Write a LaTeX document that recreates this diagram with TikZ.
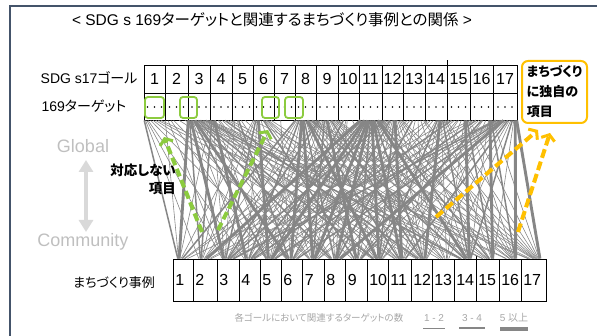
\documentclass[tikz,border=0pt]{standalone}
\usepackage{fontspec}
\setmainfont{Liberation Sans}
\newfontfamily\jp[RawFeature=+palt]{Noto Sans CJK JP}
\usetikzlibrary{arrows.meta,calc}
\definecolor{frame}{HTML}{44546A}
\definecolor{conn}{HTML}{868686}
\definecolor{grn}{HTML}{8CCB3F}
\definecolor{org}{HTML}{FFC000}
\definecolor{lgray}{HTML}{BFBFBF}
\definecolor{arrgray}{HTML}{D9D9D9}
\definecolor{legtxt}{HTML}{A6A6A6}
\begin{document}
\begin{tikzpicture}[x=1pt,y=-1pt,
  cell/.style={draw=black, line width=0.8pt, inner sep=0pt},
  w1/.style={draw=conn,line width=0.6pt},
  w2/.style={draw=conn,line width=1.5pt},
  w3/.style={draw=conn,line width=2.9pt},
  gbox/.style={draw=grn, line width=1.8pt, rounded corners=3pt, inner sep=0pt},
  garr/.style={draw=grn, line width=4pt, dash pattern=on 8pt off 4pt, -{Straight Barb[length=5pt,width=14pt,line width=3pt]}},
  oarr/.style={draw=org, line width=4pt, dash pattern=on 9pt off 4pt, -{Straight Barb[length=5pt,width=14pt,line width=3pt]}},
  numfont/.style={font=\fontsize{16}{16}\selectfont}]
\useasboundingbox (0,0) rectangle (597,336);
\draw[frame, line width=1.5pt] (597,6) -- (10,6) -- (10,336);

\node[font=\fontsize{15.5}{15.5}\selectfont] (title) at (272,20) {< SDG s 169{\jp ターゲットと関連するまちづくり事例との関係} >};

% top grid
\foreach \i/\l/\r in {1/144/165,2/165/188,3/188/210,4/210/232,5/232/253,6/253/274,7/274/295,8/295/316,9/316/338,10/338/359,11/359/382,12/382/403,13/403/425,14/425/447,15/447/470,16/470/493,17/493/517} {
  \node[cell, numfont, minimum width={\r-\l}, minimum height=28] (g\i) at ({(\l+\r)/2},79) {\i};
  \node[cell, minimum width={\r-\l}, minimum height=27] (tr\i) at ({(\l+\r)/2},106.5) {};
  \foreach \d in {-7,0,7} \fill ($(tr\i.center)+(\d,0.5)$) circle (0.8);
}
\draw[line width=0.8pt] (g14.north east) -- ++(0,-5);

% bottom grid
\foreach \i/\l/\r in {1/173/193,2/193/217,3/217/239,4/239/260,5/260/281,6/281/302.5,7/302.5/324,8/324/345.5,9/345.5/367,10/367/388,11/388/411,12/411/432,13/432/454,14/454/476,15/476/499,16/499/521,17/521/546} {
  \node[cell, minimum width={\r-\l}, minimum height=42] (c\i) at ({(\l+\r)/2},280) {};
  \node[anchor=west, inner sep=0pt, numfont] (cn\i) at ($(c\i.west)+(2.5,0)$) {\i};
}
\draw[line width=0.8pt] (c14.north east) -- ++(0,-3);

% connections goal/case/weight
\foreach \g/\c/\w in {
1/1/2,2/1/1,3/1/3,4/1/1,6/1/1,8/1/2,11/1/1,12/1/1,16/1/1,
1/2/1,3/2/2,4/2/2,5/2/1,6/2/1,8/2/1,9/2/1,11/2/3,12/2/1,15/2/1,17/2/1,
1/3/1,2/3/1,3/3/3,4/3/1,5/3/1,6/3/2,8/3/1,9/3/2,10/3/1,11/3/1,12/3/2,14/3/1,16/3/1,17/3/2,
1/4/1,3/4/1,4/4/3,6/4/1,8/4/2,9/4/1,11/4/2,12/4/1,13/4/1,15/4/2,17/4/1,
2/5/1,3/5/2,4/5/1,5/5/1,6/5/3,8/5/1,9/5/1,10/5/2,11/5/3,12/5/1,14/5/1,16/5/2,17/5/1,
1/6/1,3/6/3,5/6/2,7/6/1,8/6/3,9/6/1,11/6/2,12/6/1,13/6/1,15/6/1,17/6/2,
2/7/1,3/7/1,4/7/1,6/7/1,8/7/3,9/7/2,10/7/1,11/7/3,12/7/2,14/7/1,16/7/1,17/7/1,
1/8/1,3/8/2,4/8/1,5/8/1,8/8/2,9/8/1,10/8/1,11/8/3,12/8/1,13/8/2,15/8/1,17/8/3,
3/9/1,6/9/2,8/9/1,9/9/3,11/9/2,12/9/1,14/9/1,15/9/1,16/9/2,17/9/1,
1/10/1,3/10/2,4/10/1,6/10/1,8/10/3,9/10/1,11/10/3,12/10/2,13/10/1,14/10/2,16/10/1,17/10/1,
2/11/1,3/11/1,5/11/1,6/11/1,8/11/2,9/11/1,11/11/3,12/11/3,14/11/1,15/11/1,17/11/2,
1/12/1,3/12/1,4/12/2,6/12/1,8/12/1,9/12/2,10/12/1,11/12/2,12/12/1,13/12/1,14/12/3,16/12/1,17/12/1,
3/13/1,6/13/1,8/13/1,9/13/1,11/13/1,12/13/1,14/13/1,15/13/1,17/13/1,
1/14/1,3/14/2,4/14/1,8/14/2,9/14/1,11/14/3,12/14/1,13/14/1,14/14/2,15/14/3,16/14/1,17/14/2,
2/15/1,3/15/1,6/15/1,8/15/1,9/15/1,11/15/2,12/15/1,14/15/1,15/15/2,16/15/3,17/15/1,
3/16/1,4/16/1,8/16/1,9/16/1,11/16/1,12/16/1,13/16/1,14/16/1,15/16/1,16/16/2,17/16/3,
2/17/1,3/17/1,5/17/1,8/17/1,9/17/1,10/17/1,11/17/1,12/17/1,13/17/1,14/17/1,15/17/1,16/17/1,17/17/3} {
  \pgfmathsetmacro\fa{(\c-0.5)/17}
  \pgfmathsetmacro\fb{0.25+0.5*(\g-1)/16}
  \draw[w\w] ($(tr\g.south west)!\fa!(tr\g.south east)$) -- ($(c\c.north west)!\fb!(c\c.north east)$);
}

% labels
\node[anchor=east, font=\fontsize{14}{14}\selectfont] (goallbl) at (141,78) {SDG s17{\jp ゴール}};
\node[anchor=west, font=\fontsize{14}{14}\selectfont] (tgtlbl) at (38,106) {169{\jp ターゲット}};
\node[font=\jp\fontsize{13}{13}\selectfont] (caselbl) at (114,283) {まちづくり事例};

% green boxes
\node[gbox, minimum width=19, minimum height=21] (gb1) at (154.5,107.5) {};
\node[gbox, minimum width=17, minimum height=21] (gb2) at (188.5,107.5) {};
\node[gbox, minimum width=17, minimum height=21] (gb3) at (270.5,107.5) {};
\node[gbox, minimum width=18, minimum height=21] (gb4) at (294,107.5) {};

% orange box
\node[draw=org, line width=2pt, rounded corners=6pt, minimum width=65, minimum height=62, inner sep=3pt, align=left, font=\jp\bfseries\fontsize{13}{20}\selectfont] (uniq) at (554.5,92) {まちづくり\\に独自の\\項目};

% not corresponding
\node[anchor=north east, align=right, inner sep=0pt, font=\jp\bfseries\fontsize{13.5}{18}\selectfont] (nomatch) at (176,164) {対応しない\\項目};

% arrows
\coordinate (ga1s) at (202,232); \coordinate (ga1e) at (164,137);
\coordinate (ga2s) at (218,230); \coordinate (ga2e) at (268,130);
\coordinate (oa1s) at (436,217); \coordinate (oa1e) at (538,130);
\coordinate (oa2s) at (518,232); \coordinate (oa2e) at (550,133);
\draw[garr] (ga1s) -- (ga1e);
\draw[garr] (ga2s) -- (ga2e);
\draw[oarr] (oa1s) -- (oa1e);
\draw[oarr] (oa2s) -- (oa2e);

% global / community
\node[text=lgray, font=\fontsize{18}{18}\selectfont] (glob) at (83,146) {Global};
\node[text=lgray, font=\fontsize{18}{18}\selectfont] (comm) at (83,242) {Community};
\coordinate (gtop) at (86,160); \coordinate (gbot) at (86,232);
\draw[arrgray, line width=4.5pt, {Triangle[width=14pt,length=12pt]}-{Triangle[width=14pt,length=12pt]}] (gtop) -- (gbot);

% legend
\node[anchor=west, text=legtxt, font=\jp\fontsize{9.5}{9.5}\selectfont] (legt) at (231,318) {各ゴールにおいて関連するターゲットの数};
\node[text=legtxt, font=\fontsize{10}{10}\selectfont] (l1) at (434,318) {1 - 2};
\node[text=legtxt, font=\fontsize{10}{10}\selectfont] (l2) at (472,318) {3 - 4};
\node[text=legtxt, font=\fontsize{10}{10}\selectfont] (l3) at (514,318) {5 {\jp 以上}};
\draw[conn, line width=0.8pt] ($(l1.south)+(-11,3)$) -- ($(l1.south)+(11,3)$);
\draw[conn, line width=2pt] ($(l2.south)+(-13,3)$) -- ($(l2.south)+(13,3)$);
\draw[conn, line width=4pt] ($(l3.south)+(-14,3)$) -- ($(l3.south)+(14,3)$);
\end{tikzpicture}
\end{document}
